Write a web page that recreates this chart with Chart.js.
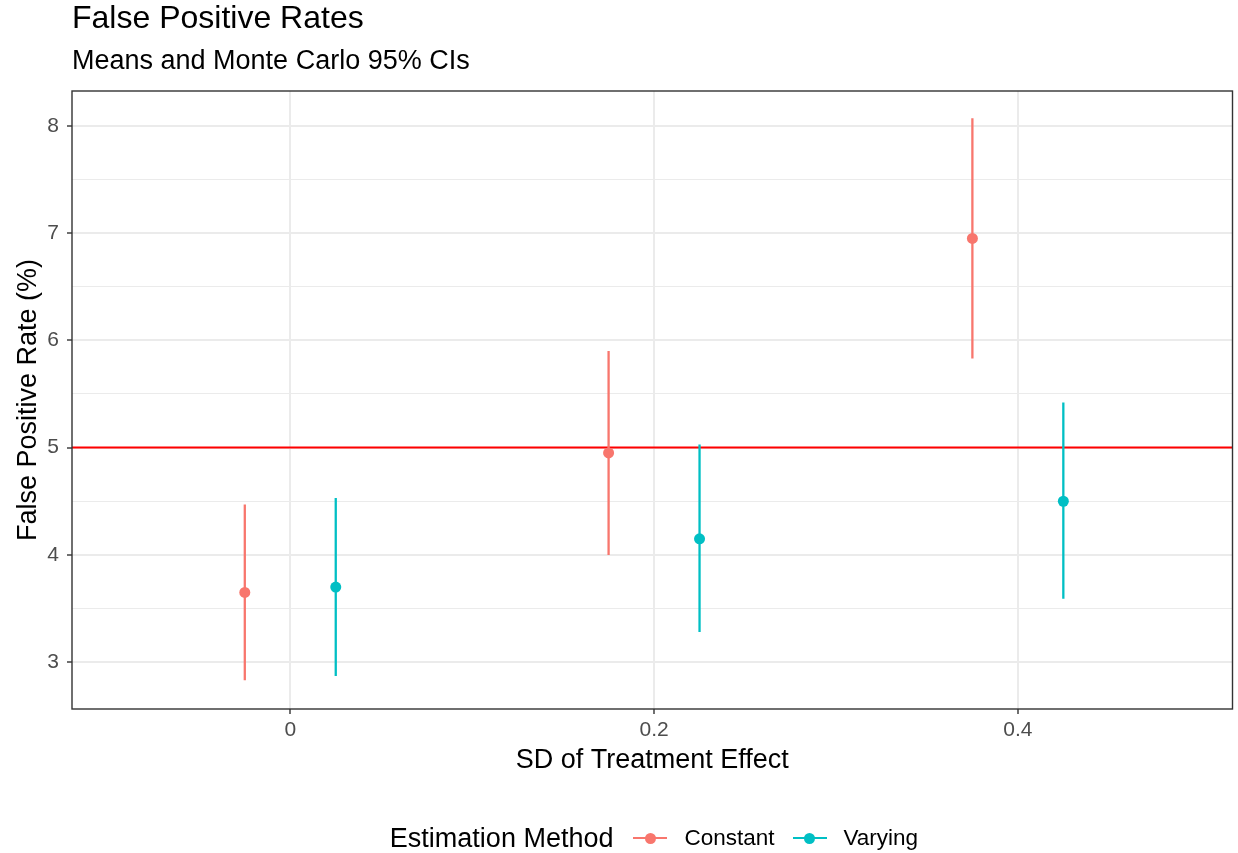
<!DOCTYPE html>
<html>
<head>
<meta charset="utf-8">
<script src="https://cdn.jsdelivr.net/npm/chart.js@4/dist/chart.umd.min.js"></script>
<style>
    body { margin: 0; background: #fff; }
    #wrap { position: relative; width: 1238px; height: 853px; }
    #legend {
        position: absolute; left: 72px; width: 1164px; top: 822px; height: 32px;
        display: flex; justify-content: center; align-items: center;
        font-family: "Liberation Sans", Arial, sans-serif; color: #000;
    }
    #legend .ttl { font-size: 27px; margin-right: 20px; }
    #legend .key { position: relative; width: 34px; height: 20px; margin-right: 17px; }
    #legend .key .ln { position: absolute; left: 0; right: 0; top: 9px; height: 2.4px; }
    #legend .key .dot { position: absolute; left: 11.5px; top: 4.5px; width: 11px; height: 11px; border-radius: 50%; }
    #legend .lbl { font-size: 22.5px; margin-right: 18px; }
    #legend .lbl:last-child { margin-right: 0; }
</style>
</head>
<body>
<div id="wrap">
    <canvas id="chart"></canvas>
    <div id="legend"></div>
</div>
<script>
// x categories and dodge
const sdValues = [0, 0.2, 0.4];
const dodge = 0.025;
const methods = ["Constant", "Varying"];
const methodColors = ["#F8766D", "#00BFC4"];

// false positive rate (%) means and 95% CI bounds
const constantMean = [3.65, 4.95, 6.95];
const constantLow = [2.83, 4.0, 5.83];
const constantHigh = [4.47, 5.9, 8.07];

const varyingMean = [3.7, 4.15, 4.5];
const varyingLow = [2.87, 3.28, 3.59];
const varyingHigh = [4.53, 5.03, 5.42];

const xTicks = [0, 0.2, 0.4];
const yTicks = [3, 3.5, 4, 4.5, 5, 5.5, 6, 6.5, 7, 7.5, 8];
const refLine = 5;

const titleText = "False Positive Rates";
const subtitleText = "Means and Monte Carlo 95% CIs";

const FONT = '"Liberation Sans", Arial, sans-serif';

const means = [constantMean, varyingMean];
const lows = [constantLow, varyingLow];
const highs = [constantHigh, varyingHigh];
const shift = [-dodge, dodge];

let pointSets = [];
let barSets = [];
methods.forEach((m, k) => {
    pointSets.push({
        label: m,
        data: sdValues.map((x, i) => ({ x: x + shift[k], y: means[k][i] })),
        backgroundColor: methodColors[k],
        borderColor: methodColors[k],
        pointRadius: 5.5,
        pointHoverRadius: 5.5,
        borderWidth: 0,
        showLine: false,
    });
    let seg = [];
    sdValues.forEach((x, i) => {
        seg.push({ x: x + shift[k], y: lows[k][i] });
        seg.push({ x: x + shift[k], y: highs[k][i] });
        seg.push({ x: x + shift[k], y: null });
    });
    barSets.push({
        label: m + " CI",
        data: seg,
        borderColor: methodColors[k],
        borderWidth: 2.3,
        pointRadius: 0,
        showLine: true,
        spanGaps: false,
    });
});

// legend (html)
const legendEl = document.getElementById("legend");
let html = '<span class="ttl">Estimation Method</span>';
methods.forEach((m, k) => {
    html += `<span class="key"><span class="ln" style="background:${methodColors[k]}"></span><span class="dot" style="background:${methodColors[k]}"></span></span><span class="lbl">${m}</span>`;
});
legendEl.innerHTML = html;

const panelPlugin = {
    id: "panel",
    beforeDatasetsDraw(chart) {
        const { ctx, chartArea, scales } = chart;
        const y = scales.y.getPixelForValue(refLine);
        ctx.save();
        ctx.strokeStyle = "#FF0000";
        ctx.lineWidth = 2;
        ctx.beginPath();
        ctx.moveTo(chartArea.left, y);
        ctx.lineTo(chartArea.right, y);
        ctx.stroke();
        ctx.restore();
    },
    afterDraw(chart) {
        const { ctx, chartArea } = chart;
        ctx.save();
        ctx.strokeStyle = "#333333";
        ctx.lineWidth = 1.4;
        ctx.strokeRect(chartArea.left, chartArea.top, chartArea.right - chartArea.left, chartArea.bottom - chartArea.top);
        ctx.fillStyle = "#000";
        ctx.textBaseline = "middle";
        ctx.textAlign = "left";
        ctx.font = "32px " + FONT;
        ctx.fillText(titleText, chartArea.left, 19);
        ctx.font = "27px " + FONT;
        ctx.fillText(subtitleText, chartArea.left, 62);
        ctx.restore();
    },
};

const isMajor = (v) => Math.abs(v - Math.round(v)) < 1e-6;

new Chart(document.getElementById("chart"), {
    type: "scatter",
    data: { datasets: pointSets.concat(barSets) },
    options: {
        responsive: true,
        maintainAspectRatio: false,
        animation: false,
        layout: { padding: { top: 91, left: 0, right: 5, bottom: 76 } },
        plugins: {
            legend: { display: false },
            tooltip: { enabled: false },
        },
        scales: {
            x: {
                type: "linear",
                min: -0.12,
                max: 0.518,
                afterBuildTicks: (s) => { s.ticks = xTicks.map((v) => ({ value: v })); },
                afterFit: (s) => { s.height = 68; },
                border: { display: false },
                grid: { color: "#EBEBEB", lineWidth: 2, tickLength: 5, tickColor: "#333333", tickWidth: 1.4 },
                ticks: {
                    color: "#4D4D4D",
                    font: { family: FONT, size: 21 },
                    padding: 4,
                    maxRotation: 0,
                    callback: (v) => String(Math.round(v * 10) / 10),
                },
                title: {
                    display: true,
                    text: "SD of Treatment Effect",
                    color: "#000",
                    font: { family: FONT, size: 27 },
                    padding: { top: 0, bottom: 0 },
                },
            },
            y: {
                min: 2.563,
                max: 8.325,
                afterBuildTicks: (s) => { s.ticks = yTicks.map((v) => ({ value: v })); },
                afterFit: (s) => { s.width = 72; },
                border: { display: false },
                grid: {
                    color: "#EBEBEB",
                    lineWidth: (c) => (isMajor(c.tick.value) ? 2 : 1.1),
                    tickLength: 5,
                    tickColor: (c) => (isMajor(c.tick.value) ? "#333333" : "rgba(0,0,0,0)"),
                    tickWidth: 1.4,
                },
                ticks: {
                    color: "#4D4D4D",
                    font: { family: FONT, size: 21 },
                    padding: 8,
                    callback: (v) => (isMajor(v) ? String(v) : ""),
                },
                title: {
                    display: true,
                    text: "False Positive Rate (%)",
                    color: "#000",
                    font: { family: FONT, size: 27 },
                    padding: { top: 12, bottom: 0 },
                },
            },
        },
    },
    plugins: [panelPlugin],
});
</script>
</body>
</html>
